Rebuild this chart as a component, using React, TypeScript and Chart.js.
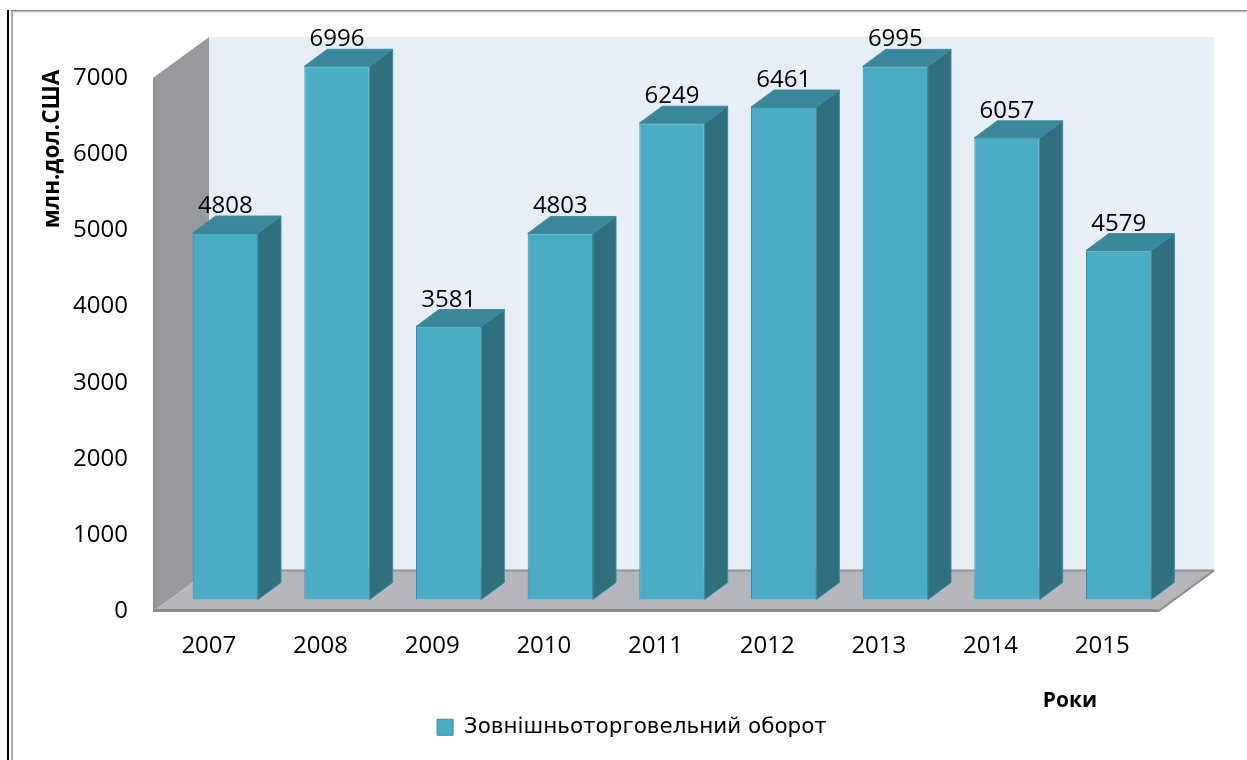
import React, { useEffect, useRef } from 'react';
import { Chart, registerables } from 'chart.js';

Chart.register(...registerables);

const categories: string[] = ['2007', '2008', '2009', '2010', '2011', '2012', '2013', '2014', '2015'];
const turnover: number[] = [4808, 6996, 3581, 4803, 6249, 6461, 6995, 6057, 4579];
const yTickValues: number[] = [0, 1000, 2000, 3000, 4000, 5000, 6000, 7000];
const seriesLabel = 'Зовнішньоторговельний оборот';
const yAxisTitle = 'млн.дол.США';
const xAxisTitle = 'Роки';

// 3D look
const WALL_DX = 56;
const WALL_DY = 41;
const BAR_OFF_DX = 16.5;
const BAR_OFF_DY = 12;
const BAR_DX = 23;
const BAR_DY = 17;

const FRONT = '#4bacc6';
const SIDE = '#31707e';
const TOP = '#3a8799';
const EDGE = '#3a8ca2';

const threeD = {
  id: 'threeD',
  beforeDraw(chart: any) {
    const { ctx, chartArea } = chart;
    const W = chart.width;
    const H = chart.height;
    const L = chartArea.left;
    const R = chartArea.right;
    const T = chartArea.top;
    const B = chartArea.bottom;
    ctx.save();
    // page frame
    ctx.fillStyle = '#000000';
    ctx.fillRect(7, 10, 2, H - 10);
    ctx.fillStyle = '#a6a6a6';
    ctx.fillRect(11, 12, 2, H - 12);
    ctx.fillStyle = '#7f7f7f';
    ctx.fillRect(11, 10, W - 11, 1.5);
    ctx.fillStyle = '#c8c8c8';
    ctx.fillRect(13, 11.5, W - 13, 1);

    // back wall
    ctx.fillStyle = '#e8eef6';
    ctx.fillRect(L + WALL_DX, T - WALL_DY, R - L, B - T);
    // left wall
    ctx.fillStyle = '#97999d';
    ctx.beginPath();
    ctx.moveTo(L, T);
    ctx.lineTo(L + WALL_DX, T - WALL_DY);
    ctx.lineTo(L + WALL_DX, B - WALL_DY);
    ctx.lineTo(L, B);
    ctx.closePath();
    ctx.fill();
    ctx.fillStyle = '#8a8c90';
    ctx.fillRect(L, T, 2, B - T);
    // floor
    ctx.fillStyle = '#b5b7ba';
    ctx.beginPath();
    ctx.moveTo(L, B);
    ctx.lineTo(L + WALL_DX, B - WALL_DY);
    ctx.lineTo(R + WALL_DX, B - WALL_DY);
    ctx.lineTo(R, B);
    ctx.closePath();
    ctx.fill();
    ctx.strokeStyle = '#909294';
    ctx.lineWidth = 2;
    ctx.beginPath();
    ctx.moveTo(L + WALL_DX, B - WALL_DY);
    ctx.lineTo(R + WALL_DX, B - WALL_DY);
    ctx.stroke();
    ctx.strokeStyle = '#8a8a8a';
    ctx.lineWidth = 2;
    ctx.beginPath();
    ctx.moveTo(R + WALL_DX, B - WALL_DY);
    ctx.lineTo(R, B);
    ctx.stroke();
    ctx.lineWidth = 3;
    ctx.beginPath();
    ctx.moveTo(L, B - 1);
    ctx.lineTo(R, B - 1);
    ctx.stroke();
    ctx.restore();
  },
  beforeDatasetsDraw(chart: any) {
    chart.ctx.save();
    chart.ctx.translate(BAR_OFF_DX, -BAR_OFF_DY);
  },
  afterDatasetsDraw(chart: any) {
    const { ctx } = chart;
    const meta = chart.getDatasetMeta(0);
    meta.data.forEach((bar: any, i: number) => {
      const { x, y, base, width } = bar.getProps(['x', 'y', 'base', 'width'], true);
      const l = x - width / 2;
      const r = x + width / 2;
      // side face
      ctx.fillStyle = SIDE;
      ctx.beginPath();
      ctx.moveTo(r, base);
      ctx.lineTo(r + BAR_DX, base - BAR_DY);
      ctx.lineTo(r + BAR_DX, y - BAR_DY);
      ctx.lineTo(r, y);
      ctx.closePath();
      ctx.fill();
      ctx.strokeStyle = EDGE;
      ctx.lineWidth = 1;
      ctx.stroke();
      // top face
      ctx.fillStyle = TOP;
      ctx.beginPath();
      ctx.moveTo(l, y);
      ctx.lineTo(l + BAR_DX, y - BAR_DY);
      ctx.lineTo(r + BAR_DX, y - BAR_DY);
      ctx.lineTo(r, y);
      ctx.closePath();
      ctx.fill();
      ctx.stroke();
      // value label
      ctx.fillStyle = '#000000';
      ctx.font = '24px "Open Sans"';
      ctx.textAlign = 'center';
      ctx.textBaseline = 'alphabetic';
      ctx.fillText(String(turnover[i]), x, y - BAR_DY - 3);
    });
    ctx.restore();
  },
  afterDraw(chart: any) {
    const { ctx, chartArea } = chart;
    ctx.save();
    ctx.fillStyle = '#000000';
    ctx.font = 'bold 22.5px "Open Sans"';
    ctx.textAlign = 'center';
    ctx.textBaseline = 'middle';
    ctx.translate(chartArea.left - 100, chartArea.top + 71);
    ctx.rotate(-Math.PI / 2);
    ctx.fillText(yAxisTitle, 0, 0);
    ctx.restore();
    ctx.save();
    ctx.fillStyle = '#000000';
    ctx.font = 'bold 21px "Open Sans"';
    ctx.textAlign = 'center';
    ctx.textBaseline = 'middle';
    ctx.fillText(xAxisTitle, chartArea.right - 88, chartArea.bottom + 90);
    ctx.restore();
  },
};

export default function App() {
  const ref = useRef<HTMLCanvasElement | null>(null);
  useEffect(() => {
    document.body.style.margin = '0';
    const canvas = ref.current;
    if (!canvas) return;
    const chart = new Chart(canvas, {
      type: 'bar',
      data: {
        labels: categories,
        datasets: [
          {
            label: seriesLabel,
            data: turnover,
            backgroundColor: FRONT,
            borderColor: EDGE,
            borderWidth: 1,
            categoryPercentage: 1,
            barPercentage: 0.585,
            clip: false as any,
          },
        ],
      },
      options: {
        responsive: false,
        animation: false,
        layout: { padding: { left: 17, right: 0, top: 78, bottom: 12 } },
        plugins: {
          legend: {
            display: true,
            position: 'bottom',
            labels: {
              font: { family: '"DejaVu Sans"', size: 21.5 },
              color: '#000000',
              boxWidth: 16,
              boxHeight: 16,
              padding: 10,
            },
          },
          tooltip: { enabled: false },
        },
        scales: {
          x: {
            grid: { display: false },
            border: { display: false },
            ticks: {
              font: { family: '"Open Sans"', size: 24 },
              color: '#000000',
              padding: 12,
              maxRotation: 0,
            },
            afterFit: (s: any) => {
              s.height = 95;
            },
          },
          y: {
            min: 0,
            max: 7000,
            grid: { display: false, drawTicks: false },
            border: { display: false },
            afterBuildTicks: (s: any) => {
              s.ticks = yTickValues.map((v) => ({ value: v }));
            },
            ticks: {
              font: { family: '"Open Sans"', size: 24 },
              color: '#000000',
              padding: 25,
              callback: (v: any) => String(v),
            },
            afterFit: (s: any) => {
              s.width = 136;
            },
          },
          spacer: {
            type: 'linear',
            position: 'right',
            display: true,
            grid: { display: false },
            border: { display: false },
            ticks: { display: false },
            afterFit: (s: any) => {
              s.width = 89;
            },
          },
        },
      },
      plugins: [threeD],
    });
    return () => chart.destroy();
  }, []);
  return <canvas ref={ref} width={1247} height={760} style={{ display: 'block' }} />;
}
